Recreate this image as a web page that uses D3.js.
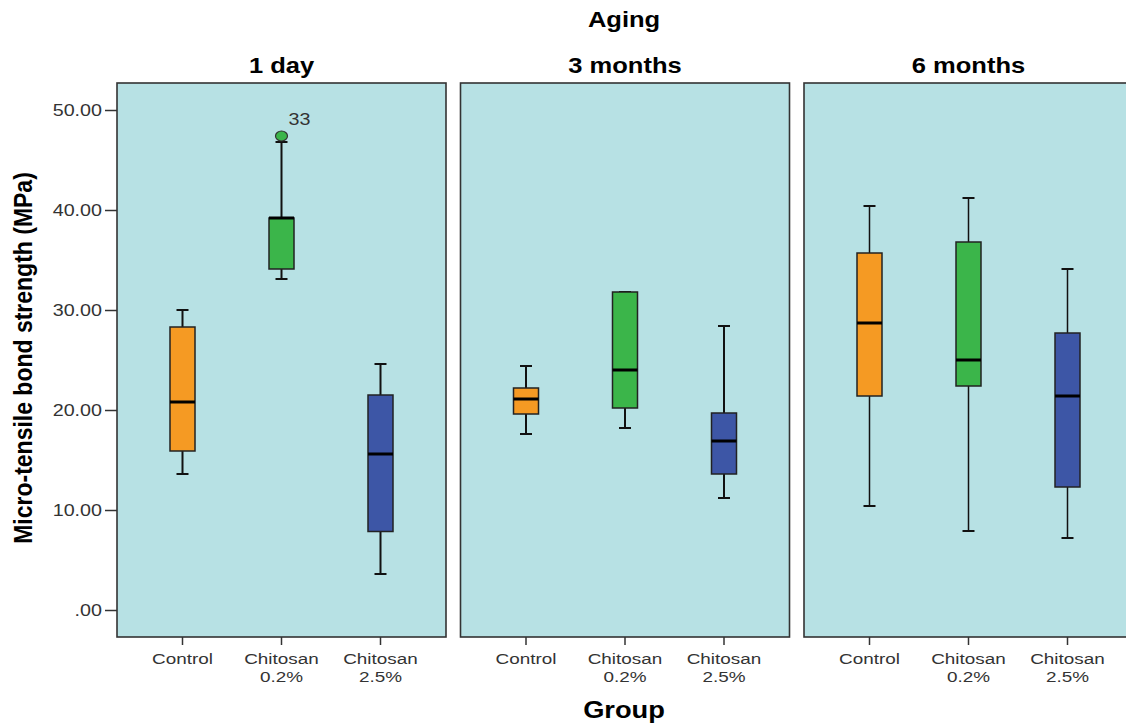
<!DOCTYPE html>
<html>
<head>
<meta charset="utf-8">
<script src="https://cdn.jsdelivr.net/npm/d3@7"></script>
<style>
  body { margin: 0; background: #fff; }
  text { font-family: "Liberation Sans", Arial, sans-serif; }
</style>
</head>
<body>
<div id="chart"></div>
<script>
(function() {
  var agings = ["1 day", "3 months", "6 months"];
  var groups = ["Control", "Chitosan 0.2%", "Chitosan 2.5%"];
  var groupLabels = [["Control"], ["Chitosan", "0.2%"], ["Chitosan", "2.5%"]];
  var groupColors = ["#f59a23", "#3bb54a", "#3d56a6"];
  var yTicks = [0, 10, 20, 30, 40, 50];

  // [whisker low, Q1, median, Q3, whisker high] per aging, per group
  var stats1Day = [
    [13.6, 15.9, 20.8, 28.3, 30.0],
    [33.1, 34.1, 39.2, 39.2, 46.8],
    [3.6, 7.85, 15.6, 21.5, 24.6]
  ];
  var stats3Months = [
    [17.6, 19.6, 21.1, 22.2, 24.4],
    [18.2, 20.2, 24.0, 31.8, 31.8],
    [11.2, 13.6, 16.9, 19.7, 28.4]
  ];
  var stats6Months = [
    [10.4, 21.4, 28.7, 35.7, 40.4],
    [7.9, 22.4, 25.0, 36.8, 41.2],
    [7.2, 12.3, 21.4, 27.7, 34.1]
  ];
  var outliers = [{aging: 0, group: 1, value: 47.4, label: "33"}];

  var allStats = [stats1Day, stats3Months, stats6Months];

  var width = 1126, height = 724;
  var stretch = 1.16; // the picture is a bit wider than its text
  var svg = d3.select("#chart").append("svg")
      .attr("width", width)
      .attr("height", height);

  // text drawn at (x,y) and widened horizontally
  function label(parent, x, y, str, size, bold, anchor, sx) {
    return parent.append("text")
        .attr("transform", "translate(" + x + "," + y + ") scale(" + (sx || stretch) + ",1)")
        .attr("text-anchor", anchor || "middle")
        .style("font-size", size + "px")
        .style("font-weight", bold ? "bold" : "normal")
        .text(str);
  }

  var panelTop = 83, panelBottom = 637, panelW = 329, panelGap = 14.5, left0 = 117;

  var y = d3.scaleLinear().domain([0, 50]).range([610, 110]);

  var panelX = d3.scaleBand()
      .domain(agings)
      .range([left0, left0 + 3 * panelW + 2 * panelGap])
      .paddingInner(panelGap / (panelW + panelGap));

  // main titles
  label(svg, 624, 27, "Aging", 22, true);
  label(svg, 624, 718, "Group", 23.5, true);
  svg.append("text")
      .attr("transform", "translate(32,358) scale(" + stretch + ",1) rotate(-90)")
      .attr("text-anchor", "middle")
      .style("font-weight", "bold").style("font-size", "23px")
      .text("Micro-tensile bond strength (MPa)");

  // y axis on first panel
  var yAxis = d3.axisLeft(y)
      .tickValues(yTicks)
      .tickSize(12)
      .tickPadding(3)
      .tickFormat(function(d) { return d === 0 ? ".00" : d3.format(".2f")(d); });
  var yg = svg.append("g")
      .attr("transform", "translate(" + left0 + ",0)")
      .call(yAxis);
  yg.select(".domain").remove();
  yg.selectAll(".tick line").attr("stroke", "#333").attr("stroke-width", 1.5);
  yg.selectAll(".tick text")
      .attr("x", 0)
      .attr("transform", "translate(-15,0) scale(" + stretch + ",1)")
      .attr("fill", "#333")
      .style("font-size", "17px")
      .style("font-family", "'Liberation Sans', Arial, sans-serif");

  agings.forEach(function(aging, ai) {
    var px = panelX(aging);
    var g = svg.append("g");

    g.append("rect")
        .attr("x", px).attr("y", panelTop)
        .attr("width", panelW).attr("height", panelBottom - panelTop)
        .attr("fill", "#b7e1e4")
        .attr("stroke", "#333")
        .attr("stroke-width", 1.6);

    label(g, px + panelW / 2, 73, aging, 22, true);

    var x = d3.scaleBand()
        .domain(groups)
        .range([px + 16, px + 16 + 3 * 99])
        .padding(0);
    var boxW = 25, capW = 12;
    var sw = ai === 2 ? 1.5 : 2;

    // category ticks and labels
    groups.forEach(function(grp, gi) {
      var cx = x(grp) + x.bandwidth() / 2;
      g.append("line")
          .attr("x1", cx).attr("x2", cx)
          .attr("y1", panelBottom).attr("y2", panelBottom + 8)
          .attr("stroke", "#333").attr("stroke-width", 1.5);
      groupLabels[gi].forEach(function(line, li) {
        label(g, cx, 664 + li * 17.5, line, 15, false, "middle", 1.26).attr("fill", "#333");
      });
    });

    var boxes = g.selectAll("g.box")
        .data(allStats[ai])
      .enter().append("g")
        .attr("class", "box")
        .attr("transform", function(d, i) {
          return "translate(" + (x(groups[i]) + x.bandwidth() / 2) + ",0)";
        });

    // whiskers
    boxes.append("line")
        .attr("x1", 0).attr("x2", 0)
        .attr("y1", function(d) { return y(d[0]); })
        .attr("y2", function(d) { return y(d[4]); })
        .attr("stroke", "#111").attr("stroke-width", sw);
    boxes.append("line")
        .attr("x1", -capW / 2).attr("x2", capW / 2)
        .attr("y1", function(d) { return y(d[0]); })
        .attr("y2", function(d) { return y(d[0]); })
        .attr("stroke", "#111").attr("stroke-width", 2);
    boxes.append("line")
        .attr("x1", -capW / 2).attr("x2", capW / 2)
        .attr("y1", function(d) { return y(d[4]); })
        .attr("y2", function(d) { return y(d[4]); })
        .attr("stroke", "#111").attr("stroke-width", 2);

    // box
    boxes.append("rect")
        .attr("x", -boxW / 2)
        .attr("width", boxW)
        .attr("y", function(d) { return y(d[3]); })
        .attr("height", function(d) { return y(d[1]) - y(d[3]); })
        .attr("fill", function(d, i) { return groupColors[i]; })
        .attr("stroke", "#222").attr("stroke-width", 1.5);

    // median
    boxes.append("line")
        .attr("x1", -boxW / 2).attr("x2", boxW / 2)
        .attr("y1", function(d) { return y(d[2]); })
        .attr("y2", function(d) { return y(d[2]); })
        .attr("stroke", "#000").attr("stroke-width", 3);

    // outliers
    outliers.filter(function(o) { return o.aging === ai; }).forEach(function(o) {
      var cx = x(groups[o.group]) + x.bandwidth() / 2;
      g.append("ellipse")
          .attr("cx", cx).attr("cy", y(o.value))
          .attr("rx", 6).attr("ry", 5)
          .attr("fill", groupColors[o.group])
          .attr("stroke", "#333").attr("stroke-width", 1.2);
      label(g, cx + 7, y(o.value) - 11, o.label, 17, false, "start").attr("fill", "#333");
    });
  });
})();
</script>
</body>
</html>
